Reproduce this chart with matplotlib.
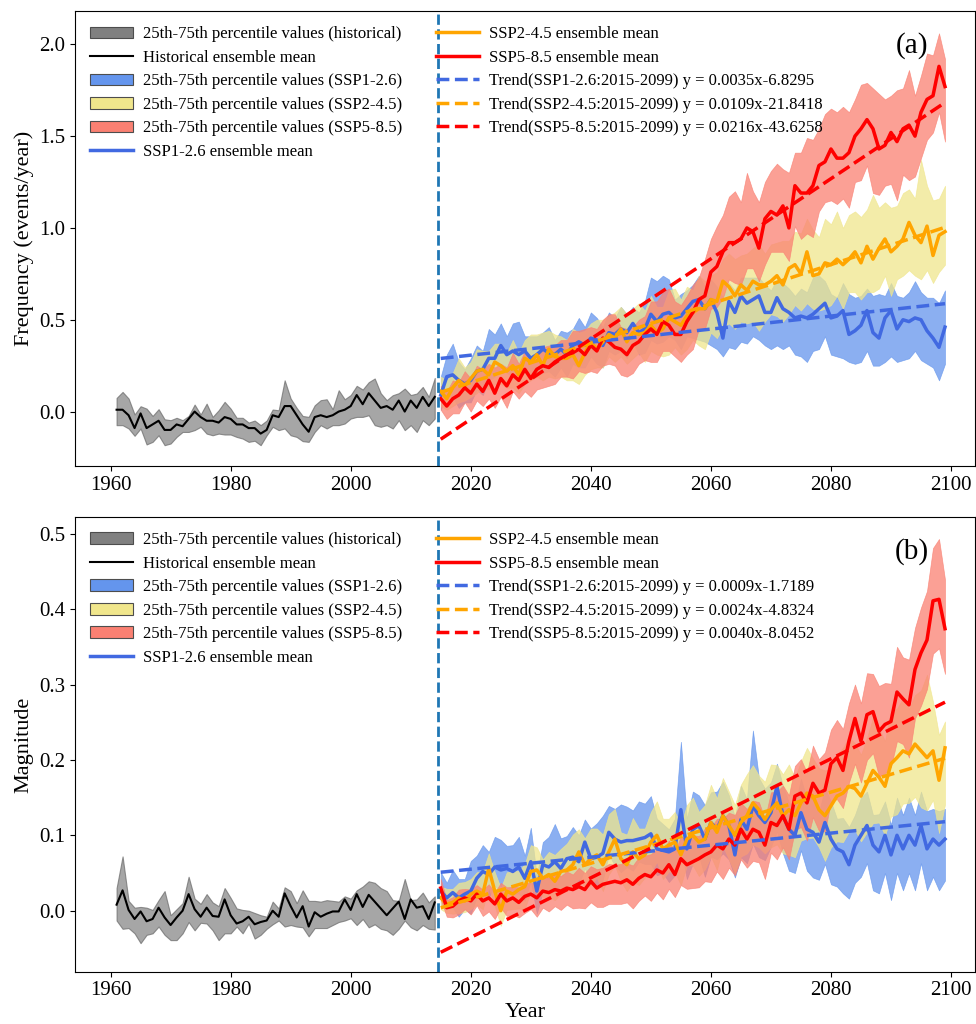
import numpy as np
import matplotlib
matplotlib.use("Agg")
import matplotlib.pyplot as plt
from matplotlib.patches import Patch
from matplotlib.lines import Line2D

plt.rcParams['font.family'] = ['Liberation Serif', 'DejaVu Serif']

# years
hist_years = np.arange(1961, 2015)
fut_years = np.arange(2015, 2100)

# ---------------- panel (a): frequency ----------------
hist_mean_a = [0.01, 0.01, -0.02, -0.09, -0.01, -0.09, -0.07, -0.05, -0.10, -0.10,
               -0.07, -0.08, -0.04, 0.00, -0.03, -0.05, -0.05, -0.06, -0.03, -0.04,
               -0.07, -0.07, -0.09, -0.09, -0.12, -0.10, -0.02, -0.03, 0.03, 0.03,
               -0.02, -0.07, -0.11, -0.03, -0.02, -0.03, -0.02, 0.00, 0.01, 0.03,
               0.09, 0.04, 0.10, 0.06, 0.02, 0.03, 0.01, 0.06, 0.00, 0.06,
               0.02, 0.08, 0.03, 0.08]
hist_hi_a = [0.074, 0.107, 0.071, -0.016, 0.029, 0.016, -0.024, 0.013, -0.042, -0.047,
             -0.034, -0.047, -0.024, 0.038, -0.016, 0.043, -0.029, 0.007, 0.053, 0.016,
             -0.034, -0.034, -0.06, -0.049, -0.074, -0.049, 0.011, 0.007, 0.17, 0.071,
             0.02, -0.024, -0.029, 0.034, 0.062, 0.067, 0.013, 0.116, 0.067, 0.09,
             0.14, 0.12, 0.16, 0.18, 0.10, 0.062, 0.089, 0.10, 0.125, 0.09,
             0.098, 0.134, 0.08, 0.183]
hist_lo_a = [-0.074, -0.074, -0.092, -0.132, -0.092, -0.179, -0.165, -0.129, -0.183, -0.174,
             -0.138, -0.111, -0.111, -0.101, -0.083, -0.12, -0.129, -0.12, -0.125, -0.125,
             -0.138, -0.147, -0.165, -0.159, -0.183, -0.129, -0.083, -0.101, -0.092, -0.129,
             -0.138, -0.161, -0.165, -0.111, -0.074, -0.092, -0.074, -0.074, -0.065, -0.038,
             -0.029, -0.029, -0.02, -0.074, -0.083, -0.074, -0.092, -0.047, -0.101, -0.074,
             -0.111, -0.047, -0.074, -0.038]

ssp126_a = [0.09, 0.19, 0.20, 0.17, 0.15, 0.17, 0.22, 0.23, 0.29, 0.29,
            0.36, 0.31, 0.33, 0.31, 0.33, 0.29, 0.31, 0.34, 0.32, 0.31,
            0.34, 0.31, 0.36, 0.38, 0.36, 0.40, 0.39, 0.36, 0.43, 0.42,
            0.45, 0.43, 0.48, 0.43, 0.45, 0.53, 0.49, 0.53, 0.54, 0.51,
            0.52, 0.56, 0.60, 0.61, 0.56, 0.61, 0.54, 0.40, 0.60, 0.54,
            0.63, 0.59, 0.61, 0.63, 0.54, 0.54, 0.62, 0.56, 0.54, 0.51,
            0.52, 0.51, 0.53, 0.56, 0.59, 0.51, 0.52, 0.55, 0.42, 0.44,
            0.47, 0.55, 0.43, 0.40, 0.51, 0.55, 0.45, 0.50, 0.49, 0.51,
            0.50, 0.44, 0.40, 0.35, 0.46]
ssp126_dhi_a = [0.10, 0.12, 0.17, 0.10, 0.08, 0.12, 0.14, 0.10, 0.16, 0.13,
                0.12, 0.10, 0.15, 0.18, 0.08, 0.12, 0.10, 0.09, 0.14, 0.08,
                0.10, 0.12, 0.09, 0.13, 0.10, 0.14, 0.12, 0.10, 0.11, 0.09,
                0.12, 0.10, 0.09, 0.11, 0.15, 0.20, 0.22, 0.21, 0.18, 0.10,
                0.12, 0.10, 0.09, 0.13, 0.12, 0.11, 0.14, 0.22, 0.10, 0.12,
                0.10, 0.14, 0.12, 0.10, 0.15, 0.12, 0.10, 0.14, 0.13, 0.12,
                0.15, 0.14, 0.20, 0.18, 0.12, 0.13, 0.10, 0.15, 0.22, 0.18,
                0.16, 0.12, 0.20, 0.24, 0.12, 0.15, 0.18, 0.12, 0.16, 0.20,
                0.15, 0.18, 0.22, 0.24, 0.20]
ssp126_dlo_a = [0.08, 0.10, 0.12, 0.15, 0.10, 0.12, 0.10, 0.14, 0.12, 0.10,
                0.12, 0.10, 0.14, 0.10, 0.12, 0.09, 0.11, 0.13, 0.10, 0.12,
                0.10, 0.12, 0.10, 0.14, 0.12, 0.10, 0.13, 0.12, 0.10, 0.11,
                0.12, 0.14, 0.10, 0.12, 0.13, 0.14, 0.12, 0.15, 0.13, 0.12,
                0.18, 0.15, 0.20, 0.22, 0.18, 0.25, 0.20, 0.10, 0.25, 0.20,
                0.25, 0.22, 0.20, 0.24, 0.18, 0.20, 0.26, 0.22, 0.18, 0.20,
                0.22, 0.24, 0.20, 0.22, 0.18, 0.20, 0.22, 0.26, 0.15, 0.18,
                0.20, 0.22, 0.18, 0.15, 0.24, 0.25, 0.18, 0.22, 0.20, 0.18,
                0.22, 0.18, 0.16, 0.18, 0.20]

ssp245_a = [0.11, 0.07, 0.13, 0.17, 0.14, 0.18, 0.22, 0.23, 0.20, 0.27,
            0.25, 0.22, 0.25, 0.20, 0.29, 0.27, 0.31, 0.25, 0.34, 0.30,
            0.29, 0.29, 0.31, 0.25, 0.32, 0.38, 0.34, 0.38, 0.42, 0.40,
            0.45, 0.38, 0.43, 0.42, 0.43, 0.47, 0.43, 0.45, 0.51, 0.49,
            0.47, 0.52, 0.54, 0.56, 0.56, 0.61, 0.60, 0.71, 0.68, 0.63,
            0.69, 0.66, 0.71, 0.69, 0.69, 0.71, 0.74, 0.69, 0.78, 0.80,
            0.75, 0.87, 0.74, 0.75, 0.81, 0.80, 0.83, 0.80, 0.83, 0.87,
            0.81, 0.90, 0.83, 0.89, 0.94, 0.87, 0.90, 0.94, 1.03, 0.96,
            0.92, 1.01, 0.85, 0.96, 0.98]
ssp245_dhi_a = [0.08, 0.10, 0.08, 0.12, 0.10, 0.09, 0.12, 0.10, 0.13, 0.10,
                0.12, 0.10, 0.14, 0.12, 0.10, 0.15, 0.11, 0.18, 0.10, 0.12,
                0.12, 0.10, 0.14, 0.18, 0.12, 0.10, 0.16, 0.12, 0.10, 0.14,
                0.12, 0.15, 0.13, 0.17, 0.12, 0.16, 0.14, 0.12, 0.15, 0.18,
                0.14, 0.16, 0.12, 0.18, 0.15, 0.13, 0.16, 0.12, 0.18, 0.20,
                0.16, 0.20, 0.18, 0.22, 0.17, 0.20, 0.18, 0.24, 0.15, 0.18,
                0.22, 0.18, 0.25, 0.20, 0.24, 0.22, 0.26, 0.20, 0.24, 0.22,
                0.25, 0.20, 0.35, 0.22, 0.20, 0.24, 0.22, 0.25, 0.18, 0.20,
                0.45, 0.22, 0.30, 0.20, 0.25]
ssp245_dlo_a = [0.08, 0.06, 0.10, 0.12, 0.08, 0.10, 0.12, 0.10, 0.08, 0.12,
                0.10, 0.09, 0.12, 0.10, 0.14, 0.10, 0.12, 0.08, 0.15, 0.12,
                0.10, 0.12, 0.14, 0.10, 0.12, 0.15, 0.10, 0.14, 0.12, 0.13,
                0.15, 0.12, 0.14, 0.10, 0.16, 0.14, 0.12, 0.15, 0.20, 0.14,
                0.16, 0.18, 0.15, 0.20, 0.22, 0.18, 0.20, 0.25, 0.20, 0.18,
                0.20, 0.18, 0.22, 0.25, 0.20, 0.18, 0.22, 0.20, 0.25, 0.22,
                0.20, 0.28, 0.18, 0.20, 0.25, 0.22, 0.20, 0.24, 0.18, 0.22,
                0.20, 0.25, 0.18, 0.22, 0.20, 0.24, 0.18, 0.20, 0.26, 0.22,
                0.20, 0.24, 0.15, 0.20, 0.18]

ssp585_a = [0.07, 0.03, 0.07, 0.09, 0.13, 0.10, 0.15, 0.11, 0.17, 0.10,
            0.18, 0.14, 0.20, 0.17, 0.23, 0.18, 0.23, 0.25, 0.24, 0.27,
            0.29, 0.31, 0.32, 0.34, 0.31, 0.36, 0.33, 0.40, 0.38, 0.35,
            0.34, 0.31, 0.36, 0.38, 0.42, 0.45, 0.42, 0.49, 0.47, 0.42,
            0.42, 0.49, 0.54, 0.61, 0.63, 0.76, 0.79, 0.87, 0.92, 0.92,
            0.94, 1.00, 0.98, 0.89, 1.05, 1.09, 1.07, 1.12, 1.00, 1.23,
            1.19, 1.19, 1.23, 1.34, 1.36, 1.43, 1.38, 1.38, 1.41, 1.50,
            1.54, 1.59, 1.54, 1.43, 1.45, 1.52, 1.47, 1.54, 1.56, 1.50,
            1.63, 1.70, 1.72, 1.88, 1.77]
ssp585_dhi_a = [0.07, 0.08, 0.10, 0.07, 0.09, 0.08, 0.10, 0.12, 0.09, 0.14,
                0.08, 0.10, 0.12, 0.09, 0.10, 0.12, 0.08, 0.10, 0.12, 0.09,
                0.10, 0.08, 0.12, 0.10, 0.14, 0.10, 0.12, 0.10, 0.15, 0.18,
                0.12, 0.14, 0.10, 0.12, 0.10, 0.15, 0.18, 0.16, 0.20, 0.18,
                0.16, 0.14, 0.15, 0.12, 0.20, 0.18, 0.22, 0.20, 0.25, 0.28,
                0.20, 0.30, 0.22, 0.25, 0.20, 0.22, 0.28, 0.20, 0.30, 0.18,
                0.22, 0.30, 0.25, 0.20, 0.26, 0.22, 0.25, 0.28, 0.22, 0.20,
                0.24, 0.20, 0.22, 0.30, 0.25, 0.20, 0.28, 0.22, 0.30, 0.22,
                0.20, 0.25, 0.22, 0.18, 0.15]
ssp585_dlo_a = [0.06, 0.07, 0.08, 0.10, 0.08, 0.10, 0.09, 0.08, 0.10, 0.08,
                0.10, 0.12, 0.09, 0.10, 0.12, 0.10, 0.11, 0.12, 0.10, 0.12,
                0.10, 0.12, 0.14, 0.12, 0.10, 0.14, 0.12, 0.15, 0.12, 0.10,
                0.14, 0.12, 0.15, 0.12, 0.14, 0.18, 0.15, 0.16, 0.14, 0.12,
                0.15, 0.18, 0.20, 0.16, 0.18, 0.20, 0.22, 0.25, 0.20, 0.22,
                0.25, 0.22, 0.20, 0.18, 0.25, 0.22, 0.20, 0.25, 0.18, 0.22,
                0.25, 0.22, 0.28, 0.25, 0.22, 0.28, 0.25, 0.22, 0.30, 0.25,
                0.28, 0.25, 0.35, 0.25, 0.22, 0.28, 0.32, 0.25, 0.30, 0.22,
                0.25, 0.22, 0.20, 0.25, 0.30]

trend_labels_a = ['Trend(SSP1-2.6:2015-2099) y = 0.0035x-6.8295',
                  'Trend(SSP2-4.5:2015-2099) y = 0.0109x-21.8418',
                  'Trend(SSP5-8.5:2015-2099) y = 0.0216x-43.6258']

# ---------------- panel (b): magnitude ----------------
hist_mean_b = [0.008, 0.027, 0.001, -0.011, -0.001, -0.014, -0.011, 0.004, -0.009, -0.019,
               -0.009, 0.000, 0.022, 0.002, -0.008, 0.004, -0.007, -0.008, 0.015, -0.006,
               -0.017, -0.014, -0.008, -0.018, -0.015, -0.013, 0.000, -0.008, 0.023, 0.006,
               -0.009, 0.006, -0.021, -0.002, -0.008, -0.004, -0.001, -0.001, 0.015, 0.001,
               0.022, 0.005, 0.021, 0.012, 0.003, -0.006, 0.003, 0.012, -0.011, 0.015,
               0.004, 0.006, -0.011, 0.011]
hist_hi_b = [0.030, 0.072, 0.013, 0.004, 0.005, 0.004, 0.001, 0.014, 0.026, -0.006,
             0.002, 0.010, 0.045, 0.016, 0.009, 0.022, 0.011, 0.006, 0.030, 0.017,
             0.003, 0.001, 0.000, -0.003, -0.006, -0.008, 0.012, 0.003, 0.031, 0.026,
             0.010, 0.027, 0.013, 0.013, 0.012, 0.014, 0.013, 0.012, 0.019, 0.016,
             0.027, 0.032, 0.039, 0.037, 0.030, 0.026, 0.014, 0.013, 0.042, 0.014,
             0.015, 0.024, 0.011, 0.019]
hist_lo_b = [-0.013, -0.024, -0.023, -0.030, -0.043, -0.032, -0.030, -0.021, -0.032, -0.039,
             -0.039, -0.030, -0.015, -0.026, -0.016, -0.017, -0.026, -0.039, -0.030, -0.030,
             -0.021, -0.030, -0.017, -0.037, -0.032, -0.024, -0.018, -0.013, -0.021, -0.019,
             -0.021, -0.022, -0.034, -0.023, -0.023, -0.023, -0.019, -0.015, -0.013, -0.010,
             -0.019, -0.011, -0.022, -0.018, -0.024, -0.026, -0.032, -0.024, -0.013, -0.022,
             -0.026, -0.019, -0.024, -0.025]

ssp126_b = [0.026, 0.017, 0.024, 0.017, 0.022, 0.026, 0.043, 0.052, 0.048, 0.058,
            0.054, 0.056, 0.052, 0.058, 0.043, 0.065, 0.026, 0.061, 0.058, 0.065,
            0.056, 0.069, 0.071, 0.065, 0.091, 0.069, 0.071, 0.076, 0.104, 0.095,
            0.091, 0.093, 0.093, 0.095, 0.097, 0.102, 0.082, 0.080, 0.078, 0.082,
            0.134, 0.082, 0.108, 0.113, 0.095, 0.117, 0.108, 0.126, 0.113, 0.074,
            0.121, 0.108, 0.139, 0.126, 0.117, 0.130, 0.165, 0.126, 0.108, 0.100,
            0.130, 0.108, 0.104, 0.091, 0.117, 0.095, 0.082, 0.078, 0.061, 0.087,
            0.100, 0.113, 0.087, 0.078, 0.100, 0.074, 0.100, 0.082, 0.100, 0.087,
            0.113, 0.082, 0.095, 0.087, 0.095]
ssp126_dhi_b = [0.025, 0.02, 0.03, 0.025, 0.02, 0.04, 0.03, 0.035, 0.03, 0.04,
                0.04, 0.03, 0.035, 0.04, 0.03, 0.045, 0.02, 0.03, 0.04, 0.05,
                0.04, 0.03, 0.04, 0.035, 0.03, 0.04, 0.045, 0.05, 0.035, 0.04,
                0.05, 0.045, 0.04, 0.05, 0.045, 0.05, 0.04, 0.035, 0.03, 0.04,
                0.09, 0.04, 0.05, 0.04, 0.045, 0.04, 0.05, 0.045, 0.04, 0.05,
                0.045, 0.04, 0.10, 0.05, 0.045, 0.04, 0.03, 0.04, 0.035, 0.04,
                0.045, 0.04, 0.05, 0.04, 0.045, 0.05, 0.04, 0.045, 0.05, 0.04,
                0.05, 0.045, 0.04, 0.05, 0.045, 0.04, 0.05, 0.045, 0.05, 0.04,
                0.045, 0.05, 0.04, 0.045, 0.04]
ssp126_dlo_b = [0.02, 0.015, 0.02, 0.025, 0.02, 0.03, 0.025, 0.02, 0.03, 0.025,
                0.03, 0.025, 0.03, 0.035, 0.03, 0.025, 0.03, 0.035, 0.03, 0.04,
                0.03, 0.035, 0.04, 0.03, 0.035, 0.03, 0.04, 0.035, 0.03, 0.035,
                0.04, 0.035, 0.04, 0.03, 0.035, 0.04, 0.035, 0.03, 0.04, 0.035,
                0.05, 0.04, 0.045, 0.04, 0.05, 0.045, 0.04, 0.05, 0.045, 0.03,
                0.05, 0.045, 0.05, 0.055, 0.05, 0.045, 0.06, 0.05, 0.055, 0.05,
                0.05, 0.055, 0.06, 0.05, 0.055, 0.06, 0.05, 0.055, 0.045, 0.05,
                0.055, 0.05, 0.06, 0.055, 0.05, 0.06, 0.05, 0.055, 0.05, 0.06,
                0.05, 0.055, 0.05, 0.06, 0.055]

ssp245_b = [0.017, 0.009, 0.011, 0.017, 0.013, 0.022, 0.026, 0.022, 0.056, 0.026,
            0.000, 0.026, 0.022, 0.028, 0.032, 0.052, 0.054, 0.043, 0.048, 0.039,
            0.052, 0.054, 0.061, 0.078, 0.061, 0.069, 0.074, 0.061, 0.078, 0.095,
            0.069, 0.061, 0.078, 0.069, 0.074, 0.091, 0.100, 0.082, 0.087, 0.091,
            0.074, 0.095, 0.100, 0.091, 0.095, 0.117, 0.104, 0.126, 0.113, 0.100,
            0.117, 0.126, 0.143, 0.134, 0.121, 0.134, 0.143, 0.126, 0.134, 0.126,
            0.143, 0.156, 0.152, 0.134, 0.126, 0.139, 0.152, 0.156, 0.165, 0.162,
            0.152, 0.169, 0.186, 0.177, 0.165, 0.195, 0.203, 0.212, 0.208, 0.221,
            0.212, 0.203, 0.212, 0.173, 0.216]
ssp245_dhi_b = [0.015, 0.02, 0.018, 0.02, 0.025, 0.02, 0.025, 0.03, 0.02, 0.025,
                0.03, 0.025, 0.03, 0.025, 0.03, 0.035, 0.03, 0.025, 0.03, 0.035,
                0.03, 0.035, 0.04, 0.03, 0.035, 0.04, 0.035, 0.04, 0.05, 0.04,
                0.035, 0.04, 0.045, 0.04, 0.035, 0.04, 0.045, 0.04, 0.035, 0.04,
                0.04, 0.045, 0.05, 0.04, 0.045, 0.05, 0.045, 0.05, 0.045, 0.04,
                0.05, 0.055, 0.05, 0.045, 0.05, 0.06, 0.05, 0.055, 0.06, 0.05,
                0.055, 0.06, 0.05, 0.055, 0.06, 0.05, 0.055, 0.06, 0.065, 0.06,
                0.055, 0.06, 0.07, 0.065, 0.06, 0.07, 0.065, 0.07, 0.06, 0.065,
                0.08, 0.11, 0.065, 0.06, 0.035]
ssp245_dlo_b = [0.015, 0.012, 0.015, 0.02, 0.015, 0.02, 0.018, 0.02, 0.025, 0.02,
                0.02, 0.025, 0.02, 0.025, 0.03, 0.025, 0.03, 0.025, 0.03, 0.025,
                0.03, 0.025, 0.03, 0.035, 0.03, 0.035, 0.03, 0.035, 0.03, 0.035,
                0.03, 0.035, 0.04, 0.035, 0.03, 0.04, 0.035, 0.04, 0.035, 0.04,
                0.04, 0.035, 0.04, 0.045, 0.04, 0.045, 0.05, 0.04, 0.045, 0.05,
                0.045, 0.05, 0.055, 0.05, 0.045, 0.05, 0.055, 0.05, 0.06, 0.055,
                0.05, 0.06, 0.055, 0.05, 0.06, 0.055, 0.06, 0.065, 0.06, 0.055,
                0.06, 0.065, 0.07, 0.06, 0.065, 0.07, 0.075, 0.07, 0.065, 0.07,
                0.075, 0.07, 0.065, 0.07, 0.075]

ssp585_b = [0.030, 0.004, 0.006, 0.013, 0.017, 0.013, 0.022, 0.013, 0.017, 0.009,
            0.022, 0.013, 0.017, 0.011, 0.019, 0.022, 0.017, 0.026, 0.024, 0.028,
            0.026, 0.030, 0.028, 0.032, 0.028, 0.039, 0.030, 0.035, 0.037, 0.039,
            0.037, 0.041, 0.035, 0.043, 0.048, 0.045, 0.054, 0.050, 0.061, 0.048,
            0.069, 0.061, 0.065, 0.069, 0.074, 0.078, 0.087, 0.082, 0.095, 0.087,
            0.108, 0.095, 0.108, 0.104, 0.087, 0.117, 0.113, 0.126, 0.108, 0.152,
            0.156, 0.143, 0.169, 0.156, 0.160, 0.195, 0.203, 0.186, 0.225, 0.255,
            0.225, 0.260, 0.264, 0.238, 0.247, 0.251, 0.290, 0.281, 0.273, 0.320,
            0.342, 0.359, 0.411, 0.413, 0.374]
ssp585_dhi_b = [0.012, 0.01, 0.012, 0.015, 0.012, 0.015, 0.012, 0.015, 0.018, 0.015,
                0.015, 0.018, 0.015, 0.02, 0.018, 0.015, 0.02, 0.018, 0.02, 0.022,
                0.02, 0.022, 0.02, 0.025, 0.022, 0.02, 0.025, 0.022, 0.025, 0.022,
                0.025, 0.022, 0.025, 0.028, 0.025, 0.03, 0.028, 0.03, 0.032, 0.03,
                0.03, 0.032, 0.035, 0.03, 0.035, 0.032, 0.035, 0.04, 0.035, 0.04,
                0.035, 0.04, 0.038, 0.04, 0.035, 0.04, 0.045, 0.04, 0.045, 0.04,
                0.045, 0.04, 0.05, 0.045, 0.05, 0.045, 0.05, 0.055, 0.05, 0.045,
                0.05, 0.055, 0.05, 0.06, 0.055, 0.05, 0.06, 0.055, 0.06, 0.055,
                0.06, 0.065, 0.07, 0.08, 0.065]
ssp585_dlo_b = [0.015, 0.012, 0.015, 0.018, 0.015, 0.018, 0.015, 0.02, 0.018, 0.02,
                0.018, 0.02, 0.022, 0.02, 0.022, 0.02, 0.025, 0.022, 0.025, 0.022,
                0.025, 0.022, 0.025, 0.028, 0.025, 0.028, 0.025, 0.03, 0.028, 0.03,
                0.028, 0.03, 0.032, 0.03, 0.028, 0.032, 0.03, 0.035, 0.032, 0.03,
                0.035, 0.032, 0.035, 0.038, 0.035, 0.04, 0.035, 0.04, 0.038, 0.04,
                0.04, 0.038, 0.042, 0.04, 0.045, 0.04, 0.045, 0.042, 0.04, 0.045,
                0.045, 0.05, 0.045, 0.05, 0.055, 0.05, 0.055, 0.05, 0.055, 0.06,
                0.055, 0.06, 0.055, 0.06, 0.065, 0.06, 0.065, 0.06, 0.07, 0.065,
                0.07, 0.065, 0.07, 0.065, 0.06]

trend_labels_b = ['Trend(SSP1-2.6:2015-2099) y = 0.0009x-1.7189',
                  'Trend(SSP2-4.5:2015-2099) y = 0.0024x-4.8324',
                  'Trend(SSP5-8.5:2015-2099) y = 0.0040x-8.0452']

scen_names = ['SSP1-2.6', 'SSP2-4.5', 'SSP5-8.5']
fill_colors = ['#6495ED', '#F0E68C', '#FA8072']
line_colors = ['#4169E1', '#FFA500', '#FF0000']


def draw_panel(ax, hmean, hlo, hhi, means, dlos, dhis, trend_labels, ylabel, tag, ylim):
    # historical band and mean
    ax.fill_between(hist_years, hlo, hhi, facecolor='gray', edgecolor='dimgray',
                    alpha=0.7, lw=0.8)
    # future bands
    for m, dl, dh, fc in zip(means, dlos, dhis, fill_colors):
        m = np.array(m)
        ax.fill_between(fut_years, m - np.array(dl), m + np.array(dh),
                        facecolor=fc, edgecolor=fc, alpha=0.75, lw=0.5)
    ax.plot(hist_years, hmean, color='black', lw=1.5)
    for m, lc in zip(means, line_colors):
        ax.plot(fut_years, m, color=lc, lw=2.5)
    # linear trends over 2015-2099
    for m, lc in zip(means, line_colors):
        k, b = np.polyfit(fut_years, m, 1)
        ax.plot(fut_years, k * fut_years + b, color=lc, lw=2.5, ls='--')

    ax.axvline(2014.5, color='#1f77b4', ls='--', lw=2)

    ax.set_xlim(1954.1, 2104)
    ax.set_ylim(*ylim)
    ax.set_xticks(np.arange(1960, 2101, 20))
    ax.tick_params(labelsize=15)
    ax.set_ylabel(ylabel, fontsize=16)
    ax.text(0.93, 0.925, tag, transform=ax.transAxes, fontsize=21,
            ha='center', va='center')

    handles = [Patch(facecolor='gray', edgecolor='0.3', lw=0.8),
               Line2D([], [], color='black', lw=1.5)]
    handles += [Patch(facecolor=fc, edgecolor='0.3', lw=0.8) for fc in fill_colors]
    handles += [Line2D([], [], color=lc, lw=2.5) for lc in line_colors]
    handles += [Line2D([], [], color=lc, lw=2.5, ls='--') for lc in line_colors]
    labels = ['25th-75th percentile values (historical)', 'Historical ensemble mean']
    labels += ['25th-75th percentile values (%s)' % s for s in scen_names]
    labels += ['%s ensemble mean' % s for s in scen_names]
    labels += trend_labels
    ax.legend(handles, labels, ncol=2, loc='upper left', frameon=False,
              fontsize=12, handlelength=2.6, handletextpad=0.6,
              columnspacing=2.0, labelspacing=0.45)


fig = plt.figure(figsize=(9.76, 10.24), dpi=100)
ax1 = fig.add_axes([0.077, 0.545, 0.922, 0.444])
ax2 = fig.add_axes([0.077, 0.051, 0.922, 0.444])

draw_panel(ax1, hist_mean_a, hist_lo_a, hist_hi_a,
           [ssp126_a, ssp245_a, ssp585_a],
           [ssp126_dlo_a, ssp245_dlo_a, ssp585_dlo_a],
           [ssp126_dhi_a, ssp245_dhi_a, ssp585_dhi_a],
           trend_labels_a, 'Frequency (events/year)', '(a)', (-0.296, 2.18))
draw_panel(ax2, hist_mean_b, hist_lo_b, hist_hi_b,
           [ssp126_b, ssp245_b, ssp585_b],
           [ssp126_dlo_b, ssp245_dlo_b, ssp585_dlo_b],
           [ssp126_dhi_b, ssp245_dhi_b, ssp585_dhi_b],
           trend_labels_b, 'Magnitude', '(b)', (-0.081, 0.522))
ax2.set_xlabel('Year', fontsize=16, labelpad=2)

fig.savefig('out.png', dpi=100)
